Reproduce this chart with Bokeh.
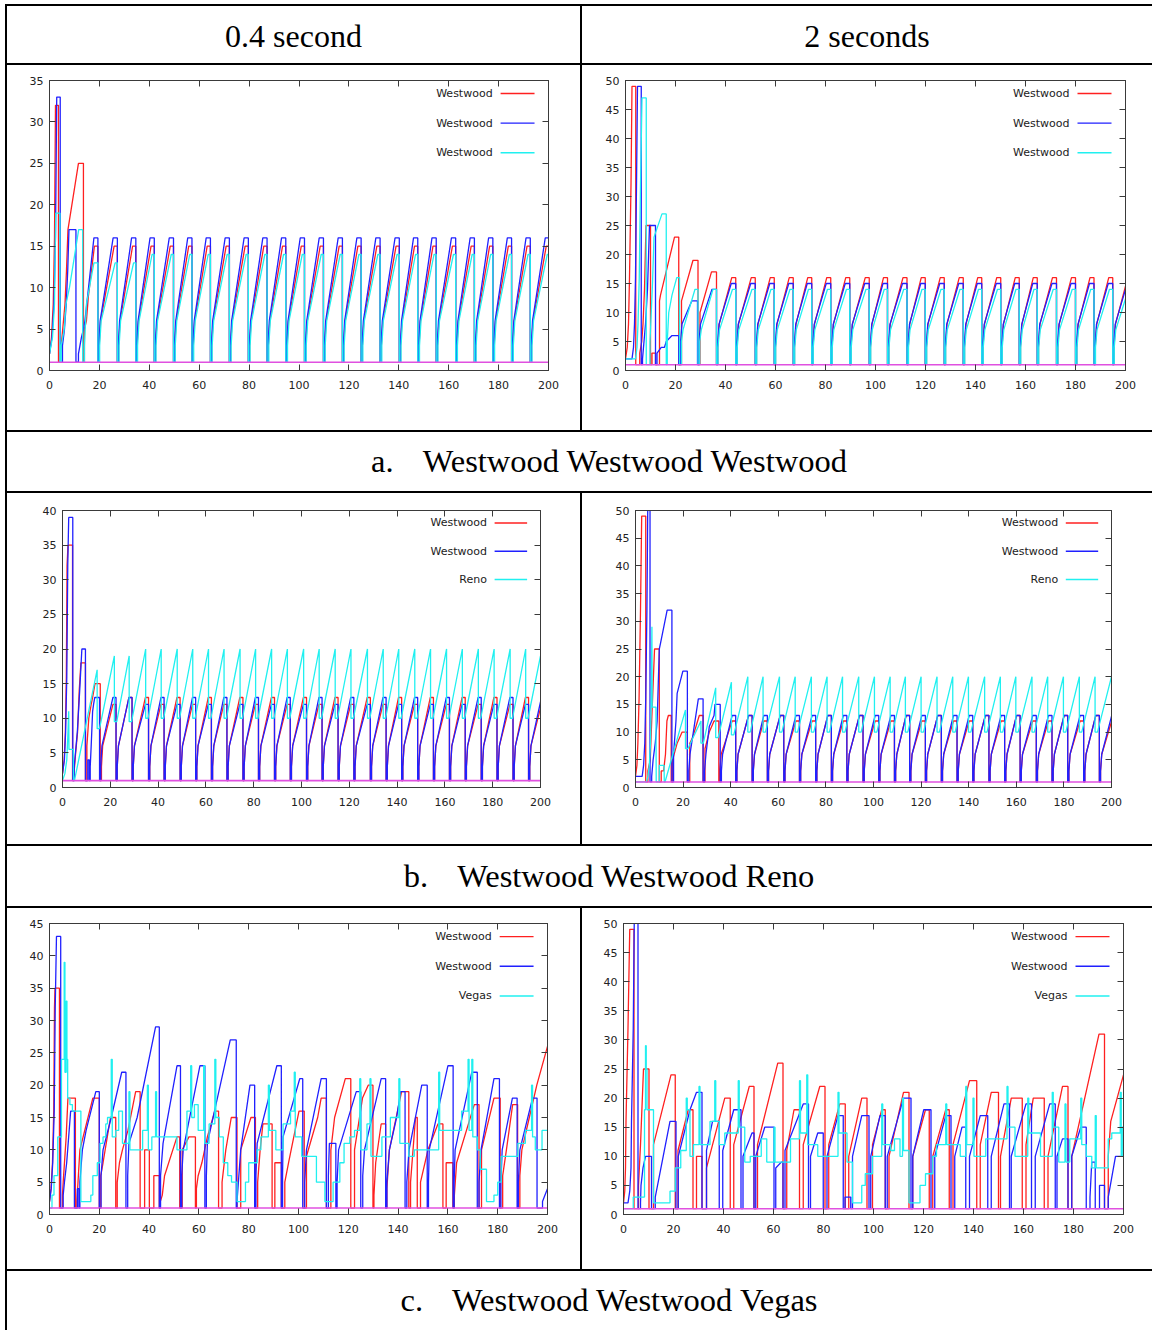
from bokeh.plotting import figure
from bokeh.models import Range1d, FixedTicker, LinearAxis, Div
from bokeh.layouts import column, row
from bokeh.embed import file_html
from bokeh.resources import INLINE
from bokeh.core.properties import value

# ---------------------------------------------------------------- texts
HEADERS = ["0.4 second", "2 seconds"]
CAPTIONS = [("a.", "Westwood Westwood Westwood"),
            ("b.", "Westwood Westwood Reno"),
            ("c.", "Westwood Westwood Vegas")]
LEGENDS = [["Westwood", "Westwood", "Westwood"],
           ["Westwood", "Westwood", "Reno"],
           ["Westwood", "Westwood", "Vegas"]]

# ---------------------------------------------------------------- axes
X_TICKS = [0, 20, 40, 60, 80, 100, 120, 140, 160, 180, 200]
Y_MAX = [[35, 50], [40, 50], [45, 50]]
Y_TICKS = {35: [0, 5, 10, 15, 20, 25, 30, 35],
           40: [0, 5, 10, 15, 20, 25, 30, 35, 40],
           45: [0, 5, 10, 15, 20, 25, 30, 35, 40, 45],
           50: [0, 5, 10, 15, 20, 25, 30, 35, 40, 45, 50]}

# constant 4th series (cwnd = 1)
FLOOR_X = [0, 200]
FLOOR_Y = [1, 1]

# ================================================================ a. 0.4 s
# cycles: ([(time, cwnd), ...], drop time)
A1_RED_START = [([(0, 2), (0.8, 4), (1.5, 8), (2.0, 16), (2.4, 32)], 3.6),
                ([(4.4, 2), (5.3, 5), (6.2, 8), (6.8, 12), (7.4, 17), (11.6, 25)], 13.6),
                ([(14.0, 5), (14.8, 6), (15.6, 9), (18.0, 15)], 19.4)]
A1_BLUE_START = [([(0, 2), (1.0, 4), (1.8, 8), (2.4, 16), (2.9, 33)], 4.3),
                 ([(5.2, 3), (6.0, 5), (6.7, 8), (7.3, 12), (7.8, 17)], 10.6),
                 ([(11.6, 2), (12.2, 3), (12.8, 4), (13.6, 5), (14.2, 6), (17.8, 16)], 19.4)]
A1_CYAN_START = [([(0, 2), (1.2, 4), (2.0, 8), (2.5, 19)], 4.2),
                 ([(4.7, 3), (5.9, 5), (6.6, 8), (8.0, 10), (11.7, 17)], 13.3),
                 ([(14.0, 3), (14.8, 8), (17.8, 13)], 19.4)]
A1_DROPS = [19.4, 27.2, 34.6, 42.0, 49.7, 57.1, 64.5, 72.1, 79.7, 87.2, 94.7, 102.2,
            109.8, 117.4, 124.9, 132.5, 140.2, 147.6, 155.0, 162.8, 170.3, 177.7, 185.2,
            192.7, 200.4]
A1_RED_PEAKS = [15, 15, 15, 15, 15, 15, 15, 15, 15, 15, 15, 15,
                15, 15, 15, 15, 15, 15, 15, 15, 15, 15, 15, 15]
A1_BLUE_PEAKS = [16, 16, 16, 16, 16, 16, 16, 16, 16, 16, 16, 16,
                 16, 16, 16, 16, 16, 16, 16, 16, 16, 16, 16, 16]
A1_CYAN_PEAKS = [13, 13, 14, 14, 14, 14, 14, 14, 14, 14, 14, 14,
                 14, 14, 14, 14, 14, 14, 14, 14, 14, 14, 14, 14]

# ================================================================ a. 2 s
A2_RED_START = [([(0, 2), (0.7, 4), (1.2, 8), (1.6, 16), (2.2, 32), (2.6, 49)], 4.1),
                ([(5.7, 3), (6.5, 5), (7.0, 8), (7.6, 14), (8.2, 25)], 10.0),
                ([(10.6, 3)], 12.0),
                ([(13.6, 12), (14.0, 13), (19.6, 23)], 21.3),
                ([(22.4, 12), (27.0, 19)], 29.0),
                ([(29.8, 10), (34.4, 17)], 36.4)]
A2_BLUE_START = [([(0, 2), (2.6, 2), (3.2, 4), (3.6, 8), (4.0, 16), (4.4, 32), (4.8, 49)], 6.3),
                 ([(6.8, 2), (7.4, 5), (8.0, 8), (8.8, 14), (9.6, 25)], 12.0),
                 ([(12.6, 3), (14.3, 4), (15.6, 4), (16.3, 5), (18.5, 6)], 21.3),
                 ([(22.0, 5), (22.6, 8), (26.5, 12)], 28.8),
                 ([(29.4, 5), (30.0, 8), (34.6, 14)], 36.4)]
A2_CYAN_START = [([(0, 2), (4.0, 2), (4.6, 4), (5.0, 8), (5.5, 16), (6.0, 32), (6.6, 47)], 8.3),
                 ([(9.8, 5), (10.8, 15), (11.4, 23), (14.6, 27)], 16.3),
                 ([(16.7, 5), (17.3, 10), (18.6, 13), (20.5, 16)], 21.6),
                 ([(22.4, 5), (23.0, 7), (27.8, 14)], 29.0),
                 ([(29.7, 5), (30.3, 7), (35.0, 14)], 36.4)]
A2_DROPS = [36.4, 44.1, 51.9, 59.5, 67.1, 74.5, 82.1, 89.7, 97.5, 104.8, 112.6, 119.9,
            127.5, 135.1, 142.5, 150.1, 157.5, 164.7, 172.4, 180.0, 187.4, 194.9, 202.5]
A2_RED_PEAKS = [16, 16, 16, 16, 16, 16, 16, 16, 16, 16, 16,
                16, 16, 16, 16, 16, 16, 16, 16, 16, 16, 16]
A2_BLUE_PEAKS = [15, 15, 15, 15, 15, 15, 15, 15, 15, 15, 15,
                 15, 15, 15, 15, 15, 15, 15, 15, 15, 15, 15]
A2_CYAN_PEAKS = [14, 14, 14, 14, 14, 14, 14, 14, 14, 14, 14,
                 14, 14, 14, 14, 14, 14, 14, 14, 14, 14, 14]

# ================================================================ b. 0.4 s (Reno)
B1_RED_START = [([(0, 2), (0.7, 4), (1.2, 8), (1.6, 16), (1.9, 32), (2.3, 35)], 4.2),
                ([(4.8, 2), (5.5, 5), (6.3, 8), (7.0, 14), (7.7, 18)], 9.6),
                ([(10.2, 6), (11.0, 10), (12.0, 12), (12.6, 13), (13.6, 15)], 15.8)]
B1_BLUE_START = [([(0, 2), (0.8, 4), (1.3, 8), (1.8, 16), (2.2, 32), (2.6, 39)], 4.3),
                 ([(4.9, 3), (6.2, 8), (7.2, 14), (8.1, 20)], 9.6),
                 ([(10.6, 4)], 11.2),
                 ([(11.6, 3), (12.0, 6), (12.6, 11), (13.0, 12), (13.5, 13)], 15.5)]
B1_RED_DROPS = [15.8, 22.4, 29.1, 36.0, 42.5, 49.2, 55.7, 62.3, 68.8, 75.5, 82.0, 88.7,
                95.3, 102.1, 108.6, 115.3, 121.9, 128.8, 135.4, 141.9, 148.6, 155.2,
                161.9, 168.5, 175.2, 181.8, 188.5, 195.0, 201.7]
B1_BLUE_DROPS = [15.5, 22.4, 29.1, 36.0, 42.5, 49.2, 55.7, 62.3, 68.8, 75.5, 82.0, 88.7,
                 95.3, 102.1, 108.6, 115.3, 121.9, 128.8, 135.4, 141.9, 148.6, 155.2,
                 161.9, 168.5, 175.2, 181.8, 188.5, 195.0, 201.7]
B1_RED_PEAKS = [12, 13, 13, 12, 13, 12, 13, 12, 13, 12, 13, 12, 13, 12,
                13, 12, 13, 12, 13, 12, 13, 12, 13, 12, 13, 12, 13, 12]
B1_BLUE_PEAKS = [13, 13, 12, 13, 12, 13, 12, 13, 12, 13, 12, 13, 12, 13,
                 12, 13, 12, 13, 12, 13, 12, 13, 12, 13, 12, 13, 12, 13]
B1_RENO_START = [(0, 1), (1.0, 2), (1.8, 4), (2.3, 8), (2.6, 11), (2.7, 5.5), (4.5, 5.5),
                 (4.6, 1), (5.0, 1)]
# (peak time, peak cwnd, cwnd after halving)
B1_RENO_PEAKS = [(14.5, 17, 8.5), (21.7, 19, 9.5), (27.9, 19, 9.5), (34.8, 20, 10),
                 (41.3, 20, 10), (48.0, 20, 10), (54.5, 20, 10), (61.1, 20, 10),
                 (67.6, 20, 10), (74.3, 20, 10), (80.8, 20, 10), (87.5, 20, 10),
                 (94.1, 20, 10), (100.9, 20, 10), (107.4, 20, 10), (114.1, 20, 10),
                 (120.7, 20, 10), (127.6, 20, 10), (134.2, 20, 10), (140.7, 20, 10),
                 (147.4, 20, 10), (154.0, 20, 10), (160.7, 20, 10), (167.3, 20, 10),
                 (174.0, 20, 10), (180.6, 20, 10), (187.3, 20, 10), (193.8, 20, 10)]
B1_RENO_END = (200, 19)

# ================================================================ b. 2 s (Reno)
B2_RED_START = [([(0, 2), (0.6, 4), (1.0, 8), (1.5, 16), (2.1, 32), (2.6, 49)], 4.3),
                ([(5.2, 3), (6.2, 5), (6.8, 12), (8.0, 25)], 10.0),
                ([(10.8, 3), (11.8, 3), (12.6, 6), (13.2, 12), (13.8, 13)], 15.0),
                ([(15.6, 5), (17.5, 8), (19.6, 10)], 21.8),
                ([(22.8, 8), (24.0, 9), (26.8, 13)], 28.4),
                ([(29.2, 7), (31.0, 10), (33.0, 12)], 35.0)]
B2_BLUE_START = [([(0, 2), (2.8, 2), (3.4, 4), (3.9, 8), (4.3, 16), (4.8, 32), (5.4, 64)], 6.1),
                 ([(6.8, 2), (7.4, 5), (8.3, 8), (9.1, 12), (10.0, 25), (10.5, 26), (13.3, 32)], 15.3),
                 ([(16.0, 6), (17.0, 12), (17.5, 17), (19.9, 21)], 21.8),
                 ([(22.4, 3), (22.9, 6), (26.4, 16)], 28.4),
                 ([(29.0, 3), (29.6, 6), (31.0, 11), (33.0, 13), (33.4, 15)], 35.6)]
B2_RED_DROPS = [35.0, 42.1, 49.0, 55.4, 62.3, 68.9, 75.7, 82.3, 88.8, 95.6, 102.2, 108.8,
                115.2, 121.8, 128.5, 135.1, 141.7, 148.5, 155.1, 161.6, 168.4, 175.0,
                181.6, 188.3, 194.9, 201.6]
B2_BLUE_DROPS = [35.6, 42.1, 49.0, 55.4, 62.3, 68.9, 75.7, 82.3, 88.8, 95.6, 102.2, 108.8,
                 115.2, 121.8, 128.5, 135.1, 141.7, 148.5, 155.1, 161.6, 168.4, 175.0,
                 181.6, 188.3, 194.9, 201.6]
B2_RED_PEAKS = [12, 13, 12, 13, 12, 12, 13, 12, 13, 12, 12, 13, 12,
                13, 12, 12, 13, 12, 13, 12, 12, 13, 12, 13, 12]
B2_BLUE_PEAKS = [13, 13, 13, 13, 13, 13, 13, 13, 13, 13, 13, 13, 13,
                 13, 13, 13, 13, 13, 13, 13, 13, 13, 13, 13, 13]
B2_RENO_START = [(0, 1), (4.6, 1), (5.2, 2), (5.8, 4), (6.3, 8), (6.6, 16), (6.9, 29),
                 (7.0, 14.5), (8.6, 14.5), (8.7, 1), (10.0, 1), (10.0, 4), (12.0, 4),
                 (12.1, 1), (12.4, 1)]
B2_RENO_PEAKS = [(21.0, 14, 7), (27.5, 12, 8), (33.7, 18, 9), (40.3, 19, 9.5),
                 (47.2, 20, 10), (53.6, 20, 10), (60.5, 20, 10), (67.1, 20, 10),
                 (73.9, 20, 10), (80.5, 20, 10), (87.0, 20, 10), (93.8, 20, 10),
                 (100.4, 20, 10), (107.0, 20, 10), (113.4, 20, 10), (120.0, 20, 10),
                 (126.7, 20, 10), (133.3, 20, 10), (139.9, 20, 10), (146.7, 20, 10),
                 (153.3, 20, 10), (159.8, 20, 10), (166.6, 20, 10), (173.2, 20, 10),
                 (179.8, 20, 10), (186.5, 20, 10), (193.1, 20, 10)]
B2_RENO_END = (200, 20)

# ================================================================ c. 0.4 s (Vegas)
C1_RED = [([(0, 2), (0.6, 4), (1.2, 8), (1.7, 16), (2.0, 32), (2.2, 35)], 4.0),
          ([(5.2, 3), (5.5, 5), (6.7, 12), (7.4, 18)], 10.4),
          ([(11.0, 2), (12.2, 10), (17.4, 18)], 20.0),
          ([(20.6, 6), (21.5, 8), (24.5, 15)], 26.6),
          ([(27.2, 5), (28.1, 8), (29.3, 10), (31.5, 13), (34.6, 19)], 36.4),
          ([(38.2, 10)], 40.1),
          ([(41.9, 6)], 44.1),
          ([(44.5, 2), (45.3, 3), (46.2, 6), (51.2, 12)], 52.3),
          ([(53.3, 10), (56.0, 12)], 58.6),
          ([(59.0, 4), (59.7, 6), (61.2, 8), (63.4, 12), (66.4, 16)], 67.9),
          ([(69.3, 5), (70.8, 10), (73.0, 15)], 75.3),
          ([(76.8, 10), (80.9, 15)], 82.7),
          ([(83.6, 5), (84.6, 10), (85.7, 14)], 89.4),
          ([(90.5, 8)], 93.1),
          ([(94.5, 5), (96.0, 8), (100.2, 16)], 102.3),
          ([(103.2, 9), (107.7, 15), (109.1, 18)], 111.2),
          ([(113.0, 10), (114.5, 15), (118.8, 21)], 121.0),
          ([(122.5, 10), (125.7, 18), (128.0, 20)], 129.9),
          ([(130.3, 3), (131.0, 8), (133.2, 14)], 135.0),
          ([(135.5, 4), (136.5, 10), (141.4, 19)], 144.3),
          ([(145.0, 5), (147.0, 15)], 147.7),
          ([(149.0, 5), (152.0, 10), (156.0, 14)], 158.0),
          ([(159.3, 8)], 162.0),
          ([(162.6, 3), (163.5, 8), (170.6, 17)], 172.5),
          ([(173.5, 10), (178.5, 18)], 181.0),
          ([(182.0, 6), (183.5, 10), (186.0, 17)], 188.0),
          ([(188.9, 6), (189.7, 10), (192.7, 15), (195.7, 20), (200.0, 26)], None)]
C1_BLUE = [([(0, 2), (0.7, 4), (1.3, 8), (1.9, 16), (2.3, 32), (2.8, 43)], 4.5),
           ([(5.5, 3), (6.0, 5), (6.9, 8), (7.7, 12), (8.5, 16)], 10.0),
           ([(11.2, 4)], 11.8),
           ([(12.2, 5), (13.2, 10), (14.7, 13), (18.6, 19)], 20.0),
           ([(20.7, 6), (21.5, 10), (24.8, 15), (29.0, 22)], 30.7),
           ([(31.4, 6), (31.9, 11), (35.2, 15), (42.6, 29)], 44.1),
           ([(44.6, 6), (45.6, 11), (51.2, 23)], 52.6),
           ([(53.1, 6), (53.7, 10), (60.4, 23)], 62.4),
           ([(63.0, 6), (63.4, 11), (72.6, 27)], 75.0),
           ([(75.3, 2), (76.8, 10), (80.5, 20)], 82.4),
           ([(82.9, 6), (83.4, 11), (91.3, 23)], 93.1),
           ([(93.6, 6), (93.8, 12), (100.5, 21)], 101.7),
           ([(102.5, 5), (103.2, 10), (109.1, 21)], 111.2),
           ([(112.0, 6), (112.4, 11)], 115.0),
           ([(115.5, 5), (116.1, 10), (123.2, 19)], 125.0),
           ([(125.8, 6), (126.5, 10), (133.2, 21)], 135.0),
           ([(135.5, 5), (136.5, 10), (139.4, 15), (141.0, 19)], 142.8),
           ([(143.5, 5), (144.4, 10), (149.5, 20)], 151.7),
           ([(152.2, 5), (152.5, 10), (160.0, 23)], 162.1),
           ([(162.5, 5), (162.9, 10), (169.6, 22)], 171.8),
           ([(172.5, 5), (173.3, 10), (178.5, 21)], 180.7),
           ([(181.3, 5), (181.8, 10), (185.9, 18)], 187.8),
           ([(188.3, 5), (188.9, 10), (194.0, 18)], 195.8),
           ([(198.0, 2), (199.0, 3), (200.0, 4)], None)]
C1_VEGAS = [(0, 1), (1.0, 3), (1.8, 6), (3.3, 12), (4.8, 24), (5.9, 39), (6.2, 22), (6.7, 33),
            (7.0, 24), (7.3, 18), (8.2, 17), (9.2, 16), (12.6, 2), (16.6, 3), (17.4, 6),
            (19.2, 8), (20.3, 11), (21.5, 12), (22.6, 14), (23.3, 15), (24.8, 24), (25.2, 12),
            (26.6, 13), (27.8, 16), (29.3, 11), (31.9, 19), (32.3, 10), (37.4, 13), (39.3, 20),
            (39.7, 10), (41.1, 12), (42.6, 19), (43.0, 12), (51.2, 10), (55.2, 16), (56.7, 23),
            (57.1, 15), (58.2, 17), (59.7, 13), (61.9, 23), (62.3, 11), (64.1, 14), (66.4, 24),
            (66.8, 15), (68.2, 12), (69.8, 8), (71.6, 6), (73.1, 5), (75.3, 2), (78.7, 5),
            (80.0, 8), (83.4, 10), (84.9, 12), (87.9, 20), (88.3, 13), (90.9, 10), (93.8, 14),
            (96.8, 16), (98.3, 22), (98.7, 12), (101.3, 9), (107.2, 5), (110.6, 2), (113.9, 5),
            (116.6, 8), (118.3, 11), (120.6, 12), (122.5, 13), (124.6, 21), (125.0, 10),
            (127.5, 14), (128.7, 21), (129.1, 9), (133.5, 12), (136.9, 15), (140.3, 21),
            (140.7, 11), (144.3, 9), (146.5, 10), (156.3, 22), (156.7, 13), (165.5, 16),
            (168.1, 24), (168.5, 13), (169.6, 24), (170.0, 12), (171.8, 10), (173.0, 7),
            (175.5, 2), (178.5, 3), (180.0, 5), (181.4, 9), (182.9, 9), (188.1, 11),
            (191.1, 13), (193.6, 20), (194.0, 12), (195.1, 10), (197.8, 13), (200, 13)]

# ================================================================ c. 2 s (Vegas)
C2_RED = [([(0, 2), (0.5, 4), (0.8, 8), (1.0, 16), (1.8, 32), (2.5, 49)], 4.2),
          ([(6.0, 5), (6.8, 12), (8.0, 25)], 10.2),
          ([(12.0, 12), (19.0, 24)], 20.7),
          ([(21.8, 11), (25.9, 18)], 27.8),
          ([(29.2, 10)], 31.4),
          ([(33.2, 8), (40.5, 20)], 42.7),
          ([(44.1, 12), (50.3, 22)], 52.2),
          ([(53.6, 12), (61.7, 26)], 63.8),
          ([(65.3, 11), (68.2, 18)], 70.4),
          ([(71.9, 12), (78.5, 22)], 80.6),
          ([(82.1, 12), (86.5, 19)], 88.7),
          ([(90.1, 10), (95.3, 20)], 97.4),
          ([(99.6, 12), (103.3, 18)], 104.7),
          ([(106.2, 10), (112.0, 21)], 114.2),
          ([(115.7, 10), (120.8, 18)], 122.3),
          ([(123.7, 10), (128.9, 18)], 130.3),
          ([(131.8, 12), (138.4, 23)], 141.3),
          ([(142.7, 12), (147.1, 21)], 150.0),
          ([(150.8, 10), (155.1, 20)], 159.5),
          ([(161.0, 12), (163.9, 20)], 168.3),
          ([(169.8, 10), (175.6, 22)], 177.8),
          ([(179.3, 10), (190.2, 31)], 192.4),
          ([(193.9, 10), (194.9, 16), (200.0, 24)], None)]
C2_BLUE = [([(0, 2), (1.8, 2), (2.5, 4), (3.0, 8), (3.2, 16), (3.9, 32), (4.6, 64)], 5.8),
           ([(6.8, 2), (7.0, 5), (7.8, 8), (8.8, 10)], 11.2),
           ([(12.7, 3), (18.6, 16)], 21.0),
           ([(21.9, 10), (26.6, 18), (29.2, 21)], 31.4),
           ([(33.2, 11), (35.6, 16)], 38.3),
           ([(39.7, 11), (44.1, 18)], 47.0),
           ([(47.8, 10), (51.4, 14)], 52.2),
           ([(52.9, 10), (56.5, 15)], 60.2),
           ([(60.9, 8), (63.1, 9)], 63.8),
           ([(64.6, 11), (71.9, 19)], 74.0),
           ([(74.8, 10), (77.7, 14)], 79.9),
           ([(81.4, 10), (85.8, 17)], 87.9),
           ([(88.6, 3)], 90.9),
           ([(91.6, 10), (95.3, 17)], 98.2),
           ([(98.9, 10), (102.6, 17)], 104.7),
           ([(105.5, 10), (112.0, 20)], 115.0),
           ([(115.7, 10), (120.1, 18)], 123.0),
           ([(124.5, 10), (128.9, 17)], 131.0),
           ([(132.5, 10), (135.4, 15)], 136.9),
           ([(138.4, 10), (142.7, 17)], 145.7),
           ([(147.1, 10), (152.2, 19)], 154.4),
           ([(155.1, 10), (161.0, 19)], 163.2),
           ([(164.7, 10), (170.5, 19)], 172.7),
           ([(173.4, 10), (175.6, 13)], 177.8),
           ([(179.3, 10), (182.9, 15)], 185.1),
           ([(186.6, 3), (187.3, 9)], 188.7),
           ([(190.4, 5)], 192.4),
           ([(193.9, 3), (196.8, 10)], None)]
C2_VEGAS = [(0, 1), (3.9, 3), (8.4, 18), (8.8, 29), (9.1, 25), (9.4, 18), (12.0, 2), (18.6, 4),
            (20.7, 8), (22.9, 11), (25.1, 20), (25.5, 18), (26.6, 10), (28.0, 12), (30.2, 22),
            (30.6, 12), (34.6, 16), (36.5, 23), (36.9, 16), (38.3, 12), (40.5, 14), (45.9, 23),
            (46.3, 15), (48.5, 9), (50.7, 10), (55.1, 13), (57.3, 9), (60.2, 15), (60.6, 9),
            (66.8, 13), (70.4, 23), (70.8, 14), (73.3, 24), (73.7, 12), (77.7, 10), (85.8, 21),
            (86.2, 14), (89.4, 9), (91.6, 2), (95.3, 5), (96.7, 7), (99.6, 10), (103.3, 19),
            (103.7, 12), (106.9, 11), (108.4, 13), (110.6, 10), (111.6, 20), (112.0, 11),
            (114.2, 2), (118.6, 5), (120.8, 7), (123.7, 10), (125.2, 12), (128.9, 19),
            (129.3, 12), (134.7, 10), (136.9, 22), (137.3, 12), (139.8, 20), (140.2, 10),
            (144.9, 13), (153.4, 22), (153.8, 15), (156.6, 10), (161.7, 20), (162.1, 14),
            (166.8, 10), (171.5, 21), (171.9, 15), (174.1, 9), (176.6, 19), (177.0, 9),
            (178.5, 13), (182.9, 20), (183.3, 12), (185.1, 10), (187.3, 8), (188.7, 17),
            (189.1, 8), (193.9, 13), (195.3, 14), (198.7, 21), (199.1, 10), (199.5, 15),
            (200, 15)]

# ---------------------------------------------------------------- style
RED, BLUE, CYAN, MAGENTA = "#ff2020", "#2020ff", "#20f0f0", "#e050e0"
FRAME = "#3a3a3a"
LW = 1.3
SERIF = "'Liberation Serif', 'Times New Roman', serif"


# ---------------------------------------------------------------- helpers
def regular(drops, peaks, early, flat):
    out = []
    for i, pk in enumerate(peaks):
        t0, t1 = drops[i], drops[i + 1]
        pts = [(t0 + dt, v) for dt, v in early] + [(t1 - flat, pk)]
        out.append((pts, t1))
    return out


def w_series(cycles):
    xs, ys = [], []
    for pts, td in cycles:
        t0, v0 = pts[0]
        if xs:
            xs += [t0, t0]
            ys += [1, v0]
        else:
            xs.append(t0)
            ys.append(v0)
        for t, v in pts[1:]:
            xs.append(t)
            ys.append(v)
        if td is None:
            if xs[-1] < 200:
                xs.append(200)
                ys.append(ys[-1])
        else:
            xs += [td, td]
            ys += [ys[-1], 1]
    return xs, ys


def reno(start, peaks, end, flat):
    xs = [p[0] for p in start]
    ys = [p[1] for p in start]
    for tp, vp, vt in peaks:
        xs += [tp, tp, tp + flat]
        ys += [vp, vt, vt]
    xs.append(end[0])
    ys.append(end[1])
    return xs, ys


def pts_xy(pts):
    return [p[0] for p in pts], [p[1] for p in pts]


def style_axis(ax, ticks, show, standoff):
    ax.ticker = FixedTicker(ticks=ticks)
    ax.axis_line_color = FRAME
    ax.major_tick_line_color = FRAME
    ax.major_tick_in = 6
    ax.major_tick_out = 0
    ax.minor_tick_line_color = None
    ax.major_label_text_font = "DejaVu Sans"
    ax.major_label_text_font_size = "11px"
    ax.major_label_text_color = "#222222"
    ax.major_label_standoff = standoff
    if not show:
        ax.major_label_overrides = {t: "" for t in ticks}


def panel(width, height, borders, ymax, red, blue, third, third_step, names):
    l, r, t, b = borders
    p = figure(width=width, height=height, x_range=Range1d(0, 200), y_range=Range1d(0, ymax),
               output_backend="svg", toolbar_location=None,
               min_border_left=l, min_border_right=r, min_border_top=t, min_border_bottom=b,
               background_fill_color="white", border_fill_color="white",
               outline_line_color=FRAME, outline_line_width=1)
    p.margin = (0, 0, 0, 0)
    p.xgrid.grid_line_color = None
    p.ygrid.grid_line_color = None
    yt = Y_TICKS[ymax]
    style_axis(p.xaxis[0], X_TICKS, True, 10)
    style_axis(p.yaxis[0], yt, True, 6)
    top = LinearAxis()
    style_axis(top, X_TICKS, False, 2)
    p.add_layout(top, "above")
    right = LinearAxis()
    style_axis(right, yt, False, 2)
    p.add_layout(right, "right")

    p.line(red[0], red[1], line_color=RED, line_width=LW)
    p.line(blue[0], blue[1], line_color=BLUE, line_width=LW)
    if third_step:
        p.step(third[0], third[1], mode="after", line_color=CYAN, line_width=LW)
    else:
        p.line(third[0], third[1], line_color=CYAN, line_width=LW)
    p.line(FLOOR_X, FLOOR_Y, line_color=MAGENTA, line_width=1.6)

    fr = [0.045, 0.147, 0.249]
    ly = [ymax * (1 - f) for f in fr]
    p.text(x=[0.888 * 200] * 3, y=ly, text=names, text_align="right", text_baseline="middle",
           text_font=value("DejaVu Sans"), text_font_size="11px", text_color="#222222")
    p.segment(x0=[0.904 * 200] * 3, y0=ly, x1=[0.972 * 200] * 3, y1=ly,
              line_color=[RED, BLUE, CYAN], line_width=1.4)
    return p


# ---------------------------------------------------------------- series
a1 = (w_series(A1_RED_START + regular(A1_DROPS, A1_RED_PEAKS, [(0.5, 3), (1.1, 6)], 1.3)),
      w_series(A1_BLUE_START + regular(A1_DROPS, A1_BLUE_PEAKS, [(0.4, 3), (0.9, 6)], 1.7)),
      w_series(A1_CYAN_START + regular(A1_DROPS, A1_CYAN_PEAKS, [(0.7, 3), (1.3, 6)], 0.9)))
a2 = (w_series(A2_RED_START + regular(A2_DROPS, A2_RED_PEAKS, [(0.5, 4), (1.1, 8)], 1.6)),
      w_series(A2_BLUE_START + regular(A2_DROPS, A2_BLUE_PEAKS, [(0.4, 4), (1.0, 8)], 1.8)),
      w_series(A2_CYAN_START + regular(A2_DROPS, A2_CYAN_PEAKS, [(0.6, 4), (1.2, 7)], 1.3)))
b1 = (w_series(B1_RED_START + regular(B1_RED_DROPS, B1_RED_PEAKS, [(0.5, 3), (1.0, 6)], 1.3)),
      w_series(B1_BLUE_START + regular(B1_BLUE_DROPS, B1_BLUE_PEAKS, [(0.5, 3), (1.0, 6)], 1.3)),
      reno(B1_RENO_START, B1_RENO_PEAKS, B1_RENO_END, 1.0))
b2 = (w_series(B2_RED_START + regular(B2_RED_DROPS, B2_RED_PEAKS, [(0.5, 3), (1.0, 6)], 1.5)),
      w_series(B2_BLUE_START + regular(B2_BLUE_DROPS, B2_BLUE_PEAKS, [(0.5, 3), (1.0, 6)], 1.5)),
      reno(B2_RENO_START, B2_RENO_PEAKS, B2_RENO_END, 1.0))
c1 = (w_series(C1_RED), w_series(C1_BLUE), pts_xy(C1_VEGAS))
c2 = (w_series(C2_RED), w_series(C2_BLUE), pts_xy(C2_VEGAS))

# ---------------------------------------------------------------- layout
PAD_L, PAD_T = 5, 4
W1, W2 = 573, 570
TOTAL_W = 2 + W1 + 2 + W2
HEAD_H = 57
ROW_H = [365, 351, 361]
CAP_H = [59, 60, 59]
CAP_W = W1 + 2 + W2
BLACK = {"background-color": "#000000", "font-size": "0px", "line-height": "0px"}


def blank(w, h):
    return Div(text="", width=w, height=h, margin=(0, 0, 0, 0))


def hline():
    return row(blank(PAD_L, 2),
               Div(text="", width=TOTAL_W, height=2, margin=(0, 0, 0, 0), styles=BLACK),
               spacing=0)


def vline(h):
    return Div(text="", width=2, height=h, margin=(0, 0, 0, 0), styles=BLACK)


def header(txt, w, h):
    html = (f'<div style="width:{w}px;height:{h}px;line-height:{h + 3}px;text-align:center;'
            f'font-family:{SERIF};font-size:32px;color:#000;white-space:nowrap">{txt}</div>')
    return Div(text=html, width=w, height=h, margin=(0, 0, 0, 0))


def caption(lbl, txt, w, h):
    html = (f'<div style="box-sizing:border-box;width:{w}px;height:{h}px;line-height:{h}px;'
            f'padding-left:59px;text-align:center;font-family:{SERIF};font-size:32.5px;'
            f'color:#000;white-space:nowrap">{lbl}<span style="display:inline-block;width:29px">'
            f'</span>{txt}</div>')
    return Div(text=html, width=w, height=h, margin=(0, 0, 0, 0))


pa1 = panel(W1, ROW_H[0], (42, 32, 14, 60), Y_MAX[0][0], a1[0], a1[1], a1[2], False, LEGENDS[0])
pa2 = panel(W2, ROW_H[0], (43, 27, 15, 59), Y_MAX[0][1], a2[0], a2[1], a2[2], False, LEGENDS[0])
pb1 = panel(W1, ROW_H[1], (55, 40, 17, 55), Y_MAX[1][0], b1[0], b1[1], b1[2], False, LEGENDS[1])
pb2 = panel(W2, ROW_H[1], (53, 41, 16, 57), Y_MAX[1][1], b2[0], b2[1], b2[2], False, LEGENDS[1])
pc1 = panel(W1, ROW_H[2], (42, 33, 15, 55), Y_MAX[2][0], c1[0], c1[1], c1[2], True, LEGENDS[2])
pc2 = panel(W2, ROW_H[2], (41, 29, 14, 54), Y_MAX[2][1], c2[0], c2[1], c2[2], True, LEGENDS[2])


def cells(h, left, right):
    return row(blank(PAD_L, h), vline(h), left, vline(h), right, spacing=0)


def cap_row(i):
    return row(blank(PAD_L, CAP_H[i]), vline(CAP_H[i]),
               caption(CAPTIONS[i][0], CAPTIONS[i][1], CAP_W, CAP_H[i]), spacing=0)


layout = column(
    blank(TOTAL_W + PAD_L, PAD_T),
    hline(),
    cells(HEAD_H, header(HEADERS[0], W1, HEAD_H), header(HEADERS[1], W2, HEAD_H)),
    hline(),
    cells(ROW_H[0], pa1, pa2),
    hline(),
    cap_row(0),
    hline(),
    cells(ROW_H[1], pb1, pb2),
    hline(),
    cap_row(1),
    hline(),
    cells(ROW_H[2], pc1, pc2),
    hline(),
    cap_row(2),
    spacing=0,
)

with open("out.html", "w") as f:
    f.write(file_html(layout, INLINE, "Westwood congestion windows"))
